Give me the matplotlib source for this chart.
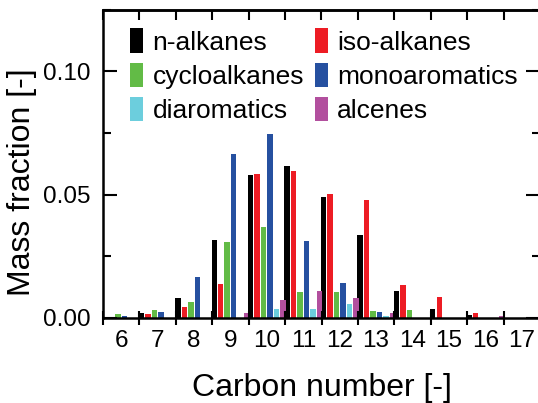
# grouped bar chart: mass fraction per carbon number
import matplotlib.pyplot as plt
import numpy as np
from matplotlib.ticker import MultipleLocator, FormatStrFormatter

plt.rcParams['font.family'] = ['Liberation Sans', 'DejaVu Sans']

# Data
carbon = [6, 7, 8, 9, 10, 11, 12, 13, 14, 15, 16, 17]
n_alkanes = [0, 0.0020, 0.0078, 0.0317, 0.0578, 0.0617, 0.0491, 0.0336, 0.0109, 0.0034, 0.0010, 0]
iso_alkanes = [0, 0.0013, 0.0043, 0.0135, 0.0585, 0.0595, 0.0501, 0.0479, 0.0132, 0.0084, 0.0020, 0]
cycloalkanes = [0.0013, 0.0030, 0.0063, 0.0305, 0.0367, 0.0103, 0.0102, 0.0026, 0.0032, 0, 0, 0]
monoaromatics = [0.0006, 0.0022, 0.0166, 0.0666, 0.0744, 0.0310, 0.0139, 0.0021, 0, 0, 0, 0]
diaromatics = [0, 0, 0, 0, 0.0034, 0.0033, 0.0053, 0.0006, 0, 0, 0, 0]
alcenes = [0, 0, 0, 0.0018, 0.0070, 0.0107, 0.0078, 0.0017, 0, 0, 0.0007, 0]

series = [n_alkanes, iso_alkanes, cycloalkanes, monoaromatics, diaromatics, alcenes]
labels = ['n-alkanes', 'iso-alkanes', 'cycloalkanes', 'monoaromatics', 'diaromatics', 'alcenes']
colors = ['#000000', '#ED1C24', '#62BB46', '#2650A0', '#6CCEDD', '#B24F9E']

fig = plt.figure(figsize=(5.38, 4.03), dpi=100)
ax = fig.add_axes([103 / 538, 1 - 317.5 / 403, 437 / 538, 307.5 / 403])

x = np.array(carbon)
step = 0.178
width = 0.15
bars = []
for i, (vals, lab, col) in enumerate(zip(series, labels, colors)):
    bars.append(ax.bar(x + (i - 2.5) * step, vals, width=width, color=col, label=lab))

ax.set_xlim(5.5, 17.5)
ax.set_ylim(0, 0.125)

for s in ax.spines.values():
    s.set_linewidth(1.8)

# x: labels at integers, ticks at group boundaries
ax.set_xticks(carbon)
ax.set_xticklabels([str(c) for c in carbon])
ax.set_xticks(np.arange(5.5, 17.6, 1), minor=True)
ax.tick_params(axis='x', which='major', length=0, labelsize=17.5, pad=9)
ax.tick_params(axis='x', which='minor', direction='inout', length=10, width=1.5,
               top=False)

top = ax.secondary_xaxis('top')
top.set_xticks(np.arange(5.5, 17.6, 1))
top.set_xticklabels([])
top.tick_params(direction='in', length=7, width=1.5)
top.spines['top'].set_linewidth(1.8)

# y ticks
ax.yaxis.set_major_locator(MultipleLocator(0.05))
ax.yaxis.set_minor_locator(MultipleLocator(0.025))
ax.yaxis.set_major_formatter(FormatStrFormatter('%.2f'))
ax.tick_params(axis='y', which='major', direction='in', length=10, width=1.5,
               right=True, labelsize=17.5, pad=9)
ax.tick_params(axis='y', which='minor', direction='in', length=6, width=1.5, right=True)

fig.text(321.6 / 538, 1 - 388 / 403, 'Carbon number [-]', fontsize=23,
         ha='center', va='center')
fig.text(22 / 538, 1 - 182.5 / 403, 'Mass fraction [-]', fontsize=23,
         ha='center', va='center', rotation=90)

order = [0, 2, 4, 1, 3, 5]
ax.legend([bars[k] for k in order], [labels[k] for k in order], ncol=2,
          loc='upper left', bbox_to_anchor=(0.062, 0.94), frameon=False,
          fontsize=19, handlelength=0.5, handleheight=1.05, handletextpad=0.35,
          columnspacing=0.4, labelspacing=0.3, borderpad=0, borderaxespad=0)

fig.savefig('out.png', dpi=100)
